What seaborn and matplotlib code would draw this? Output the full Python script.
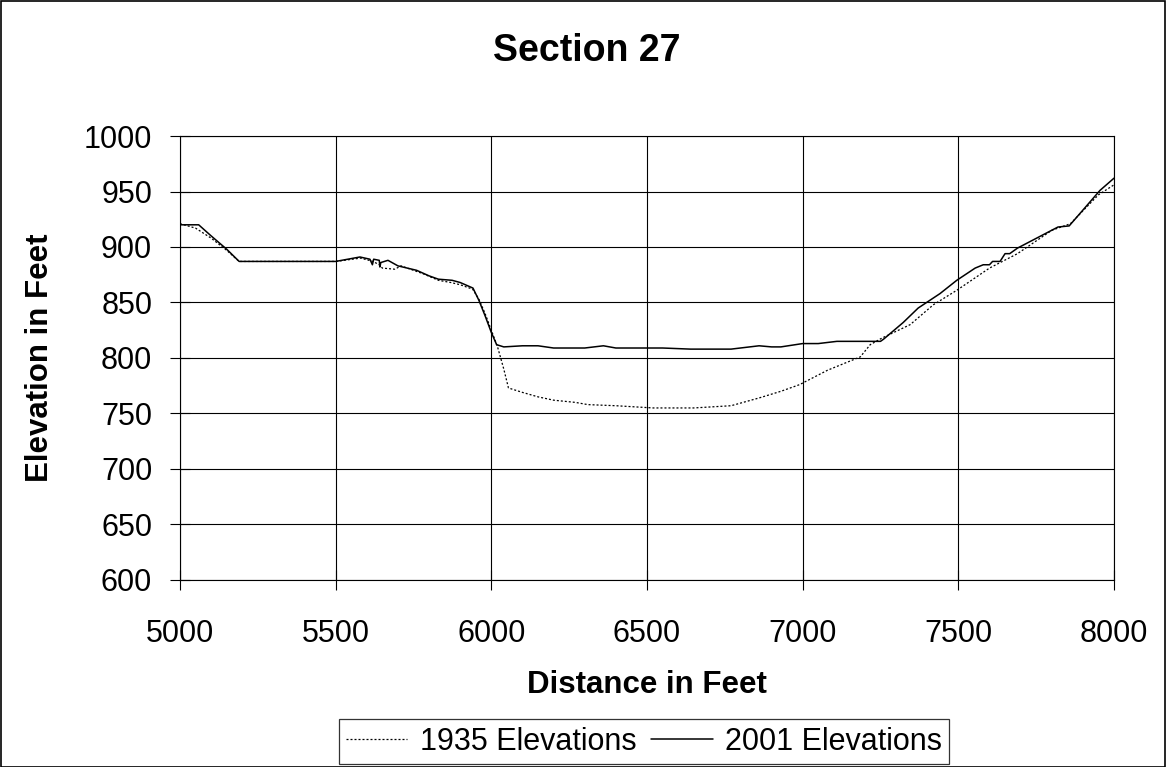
import matplotlib
matplotlib.use("Agg")
import matplotlib.pyplot as plt
import seaborn as sns
import pandas as pd
from matplotlib.patches import Rectangle

# Cross-section survey, 1935
dist_1935 = [5000, 5050, 5100, 5150, 5190, 5250, 5500, 5580, 5620, 5640, 5650,
             5690, 5710, 5780, 5830, 5870, 5900, 5940, 5960, 5980, 6000, 6020,
             6040, 6055, 6100, 6150, 6200, 6270, 6310, 6400, 6520, 6650, 6770,
             6860, 6930, 6990, 7080, 7150, 7185, 7217, 7255, 7345, 7420, 7495,
             7600, 7690, 7800, 7860, 7950, 8000]
elev_1935 = [921, 917, 908, 897, 887, 887, 887, 890, 887, 884, 881,
             880, 883, 876, 870, 868, 866, 862, 853, 840, 825, 810,
             790, 773, 769, 765, 762, 760, 758, 757, 755, 755, 757,
             764, 770, 776, 789, 797, 801, 812, 818, 830, 848, 861,
             881, 894, 915, 921, 947, 956]

# Cross-section survey, 2001
dist_2001 = [5000, 5060, 5100, 5150, 5190, 5500, 5578, 5610, 5618, 5622, 5640,
             5642, 5645, 5668, 5700, 5760, 5800, 5830, 5874, 5900, 5941, 5960,
             5980, 6000, 6017, 6040, 6100, 6150, 6200, 6300, 6360, 6400, 6500,
             6550, 6640, 6700, 6770, 6800, 6860, 6900, 6930, 7000, 7050, 7110,
             7180, 7250, 7260, 7323, 7371, 7441, 7495, 7554, 7580, 7600, 7610,
             7634, 7650, 7665, 7690, 7820, 7856, 7955, 8000]
elev_2001 = [920, 920, 910, 898, 887, 887, 891, 889, 884, 889, 888,
             882, 886, 888, 883, 879, 874, 871, 870, 868, 863, 852,
             838, 823, 812, 810, 811, 811, 809, 809, 811, 809, 809,
             809, 808, 808, 808, 809, 811, 810, 810, 813, 813, 815,
             815, 815, 817, 832, 845, 858, 870, 881, 884, 884, 887,
             887, 894, 894, 899, 918, 919, 951, 962]

series_labels = ["1935 Elevations", "2001 Elevations"]
x_ticks = [5000, 5500, 6000, 6500, 7000, 7500, 8000]
y_ticks = [600, 650, 700, 750, 800, 850, 900, 950, 1000]

sns.set_theme(style="white")
plt.rcParams["font.family"] = ["Liberation Sans", "DejaVu Sans"]
plt.rcParams["text.color"] = "black"
plt.rcParams["axes.labelcolor"] = "black"
plt.rcParams["xtick.color"] = "black"
plt.rcParams["ytick.color"] = "black"

W, H = 1166, 767
fig = plt.figure(figsize=(W / 100, H / 100), dpi=100)
fig.patch.set_facecolor("white")
ax = fig.add_axes([180 / W, 1 - 580 / H, 934 / W, 444 / H])

df35 = pd.DataFrame({"Distance": dist_1935, "Elevation": elev_1935})
df01 = pd.DataFrame({"Distance": dist_2001, "Elevation": elev_2001})

sns.lineplot(data=df35, x="Distance", y="Elevation", ax=ax, sort=False,
             estimator=None, color="black", linewidth=0.9,
             linestyle=(0, (1.6, 1.6)), label=series_labels[0])
sns.lineplot(data=df01, x="Distance", y="Elevation", ax=ax, sort=False,
             estimator=None, color="black", linewidth=1.1,
             label=series_labels[1])

ax.set_xlim(5000, 8000)
ax.set_ylim(600, 1000)
ax.set_xticks(x_ticks)
ax.set_yticks(y_ticks)
ax.grid(True, color="black", linewidth=0.8)
ax.set_axisbelow(True)
for s in ax.spines.values():
    s.set_color("black")
    s.set_linewidth(0.8)
ax.tick_params(axis="both", which="major", bottom=True, left=True,
               direction="inout", length=14, width=0.8,
               colors="black", labelsize=22)
ax.tick_params(axis="x", pad=21)
ax.tick_params(axis="y", pad=13)

ax.set_xlabel("Distance in Feet", fontsize=22.5, fontweight="bold")
ax.set_ylabel("Elevation in Feet", fontsize=22.5, fontweight="bold")
ax.xaxis.set_label_coords(0.5, -0.202)
ax.yaxis.set_label_coords(-0.134, 0.5)

fig.text(587 / W, 1 - 51 / H, "Section 27", fontsize=27, fontweight="bold",
         ha="center", va="center")

handles, labels = ax.get_legend_handles_labels()
ax.get_legend().remove()
leg = fig.legend(handles, labels, loc="center", ncol=2,
                 bbox_to_anchor=(644 / W, 1 - 741.5 / H),
                 fontsize=22, frameon=True, fancybox=False, shadow=False,
                 handlelength=2.0, handletextpad=0.4, columnspacing=0.5,
                 borderpad=0.25, borderaxespad=0)
leg.get_frame().set_edgecolor("black")
leg.get_frame().set_linewidth(0.9)

# Outer chart border
fig.add_artist(Rectangle((0.5 / W, 0.5 / H), 1 - 1.5 / W, 1 - 1.5 / H,
                         transform=fig.transFigure, fill=False,
                         edgecolor="black", linewidth=1.2))

fig.savefig("out.png", dpi=100)
